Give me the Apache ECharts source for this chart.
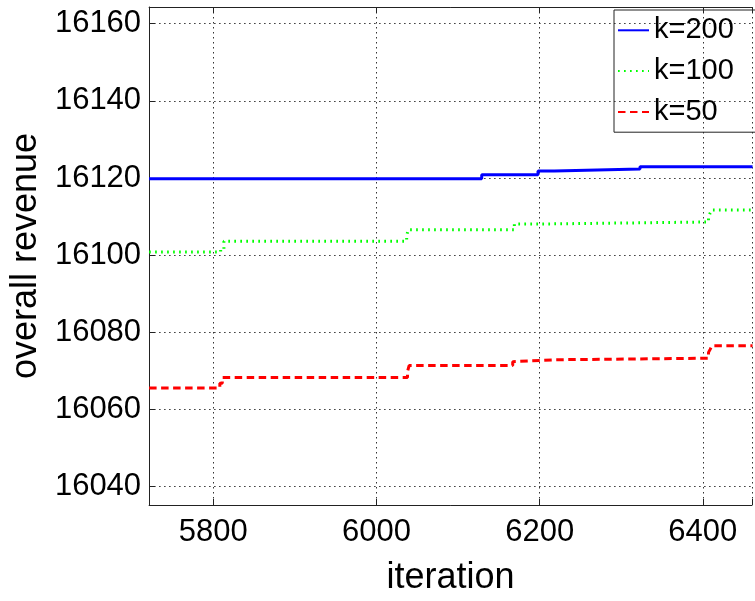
<!DOCTYPE html>
<html><head><meta charset="utf-8">
<script src="https://cdn.jsdelivr.net/npm/echarts@6/dist/echarts.min.js"></script>
<style>html,body{margin:0;padding:0;background:#fff}#c{width:755px;height:601px}</style>
</head><body><div id="c"></div>
<script>
// ---- data ----
const seriesNames = ['k=200', 'k=100', 'k=50'];
const xTickLabels = [5800, 6000, 6200, 6400];
const yTickLabels = [16040, 16060, 16080, 16100, 16120, 16140, 16160];
// step change points: [iteration, revenue]
const k200 = [[5721.3, 16119.8], [6129, 16120.8], [6198, 16121.8], [6218, 16122.3], [6323, 16122.9], [6461, 16122.9]];
const k100 = [[5721.3, 16100.8], [5809, 16101.6], [5813, 16103.6], [6037, 16105.1], [6039, 16106.6], [6169, 16108.1], [6216, 16108.6], [6407, 16109.7], [6409, 16110.9], [6411, 16111.7], [6461, 16111.7]];
const k50 = [[5721.3, 16065.6], [5808, 16066.8], [5811, 16068.3], [6038, 16069.8], [6040, 16071.4], [6167, 16072.4], [6169, 16072.9], [6219, 16073.3], [6407, 16074.8], [6409, 16075.6], [6411, 16076.5], [6461, 16076.5]];

const FONT = 'Liberation Sans, Arial, Helvetica, sans-serif';
const X_MIN = 5721.3, X_MAX = 6460.3, Y_MIN = 16035.27, Y_MAX = 16164.29;
const axisColor = '#222';
const gridStyle = { color: '#333', width: 1, type: [1.5, 3.5] };
const isTick = (v, list) => Math.abs(v - Math.round(v)) < 1e-6 && list.includes(Math.round(v));

const chart = echarts.init(document.getElementById('c'), null, { renderer: 'canvas' });
chart.setOption({
  animation: false,
  backgroundColor: '#fff',
  grid: { left: 149, top: 7, width: 615, height: 505, containLabel: false },
  legend: {
    orient: 'vertical', left: 614, top: 10,
    padding: [0, 40, 0, 3], itemGap: 0.2, itemWidth: 31, itemHeight: 14,
    borderColor: axisColor, borderWidth: 1, backgroundColor: 'transparent',
    selectedMode: false,
    itemStyle: { opacity: 0 },
    textStyle: { fontSize: 29, color: '#000', fontFamily: FONT, lineHeight: 30.6, padding: [10, 0, 0, 0] },
    data: seriesNames
  },
  xAxis: [{
    type: 'value', min: X_MIN, max: X_MAX, splitNumber: 4, position: 'bottom',
    axisLine: { show: true, lineStyle: { color: axisColor, width: 1 } },
    axisTick: { show: true, inside: true, length: 6, lineStyle: { color: axisColor } },
    axisLabel: { fontSize: 31, color: '#000', fontFamily: FONT, margin: 12,
      formatter: v => isTick(v, xTickLabels) ? String(Math.round(v)) : '' },
    splitLine: { show: true, lineStyle: gridStyle },
    name: 'iteration', nameLocation: 'middle', nameGap: 55,
    nameTextStyle: { fontSize: 36, color: '#000', fontFamily: FONT }
  }, {
    type: 'value', min: X_MIN, max: X_MAX, splitNumber: 4, position: 'top',
    axisLine: { show: true, lineStyle: { color: axisColor, width: 1 } },
    axisTick: { show: true, inside: true, length: 6, lineStyle: { color: axisColor } },
    axisLabel: { show: false }, splitLine: { show: false }
  }],
  yAxis: [{
    type: 'value', min: Y_MIN, max: Y_MAX, splitNumber: 6,
    axisLine: { show: true, lineStyle: { color: axisColor, width: 1 } },
    axisTick: { show: true, inside: true, length: 6, lineStyle: { color: axisColor } },
    axisLabel: { fontSize: 31, color: '#000', fontFamily: FONT, margin: 8, padding: [6, 0, 0, 0],
      formatter: v => isTick(v, yTickLabels) ? String(Math.round(v)) : '' },
    splitLine: { show: true, lineStyle: gridStyle },
    name: 'overall revenue', nameLocation: 'middle', nameGap: 99, nameRotate: 90,
    nameTextStyle: { fontSize: 36, color: '#000', fontFamily: FONT }
  }],
  series: [
    { name: seriesNames[0], type: 'line', step: 'end', data: k200, symbol: 'none', clip: true,
      lineStyle: { color: '#0000ff', width: 3, type: 'solid' }, itemStyle: { color: '#0000ff' } },
    { name: seriesNames[1], type: 'line', step: 'end', data: k100, symbol: 'none', clip: true,
      lineStyle: { color: '#00ff00', width: 3, type: [1.7, 4.3] }, itemStyle: { color: '#00ff00' } },
    { name: seriesNames[2], type: 'line', step: 'end', data: k50, symbol: 'none', clip: true,
      lineStyle: { color: '#ff0000', width: 3, type: [7.5, 4.5] }, itemStyle: { color: '#ff0000' } }
  ]
});
</script></body></html>
